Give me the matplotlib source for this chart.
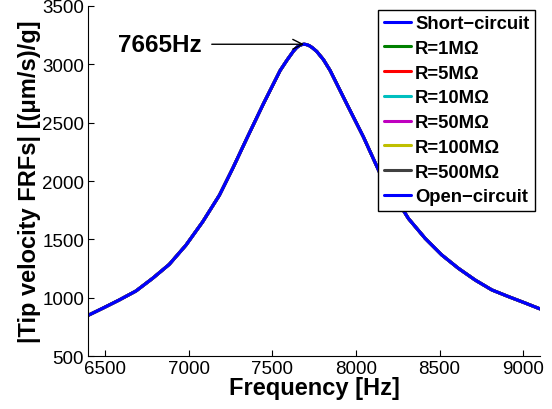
import matplotlib
matplotlib.use("Agg")
import matplotlib.pyplot as plt

freq = [6400, 6486, 6585, 6685, 6785, 6884, 6984, 7084, 7184, 7264, 7347, 7447,
        7547, 7590, 7626, 7645, 7661, 7676, 7690, 7705, 7721, 7740, 7766, 7806,
        7846, 7945, 8045, 8140, 8314, 8414, 8514, 8613, 8713, 8813, 8912, 9012, 9100]
velocity = [850, 910, 981, 1058, 1167, 1286, 1451, 1651, 1879, 2110, 2363, 2662,
            2947, 3040, 3112, 3143, 3160, 3169, 3172, 3169, 3160, 3142, 3110, 3040,
            2947, 2662, 2378, 2079, 1679, 1509, 1366, 1252, 1152, 1067, 1010, 955, 905]

series_labels = ["Short\u2212circuit", "R=1M\u03a9", "R=5M\u03a9", "R=10M\u03a9",
                 "R=50M\u03a9", "R=100M\u03a9", "R=500M\u03a9", "Open\u2212circuit"]
series_colors = [(0, 0, 1), (0, 0.5, 0), (1, 0, 0), (0, 0.75, 0.75),
                 (0.75, 0, 0.75), (0.75, 0.75, 0), (0.25, 0.25, 0.25), (0, 0, 1)]

peak_label = "7665Hz"
xticks = [6500, 7000, 7500, 8000, 8500, 9000]
yticks = [500, 1000, 1500, 2000, 2500, 3000, 3500]

plt.rcParams['font.family'] = ['Liberation Sans', 'DejaVu Sans']

fig = plt.figure(figsize=(5.52, 4.10), dpi=100)
ax = fig.add_axes([0.16, 0.129, 0.818, 0.854])

for lab, col in zip(series_labels, series_colors):
    ax.plot(freq, velocity, color=col, lw=2.2, label=lab,
            solid_joinstyle='round', solid_capstyle='round')

ax.set_xlim(6400, 9100)
ax.set_ylim(500, 3500)
ax.set_xticks(xticks)
ax.set_yticks(yticks)
ax.tick_params(direction='in', length=4, labelsize=13.5, width=0.8, pad=3)
for s in ['top', 'right']:
    ax.spines[s].set_visible(False)

ax.set_xlabel("Frequency [Hz]", fontsize=17, fontweight='bold', labelpad=-1)
ax.set_ylabel("|Tip velocity FRFs| [(\u03bcm/s)/g]", fontsize=17, fontweight='bold', labelpad=1)

pk = velocity.index(max(velocity))
ax.annotate(peak_label, xy=(freq[pk], velocity[pk]), xytext=(7080, velocity[pk]),
            ha='right', va='center', fontsize=17.5, fontweight='bold',
            arrowprops=dict(arrowstyle='->', color='black', lw=1, shrinkA=5, shrinkB=0))

leg = ax.legend(loc='upper right', bbox_to_anchor=(0.993, 0.995),
                prop={'weight': 'bold', 'size': 13.3}, fancybox=False,
                edgecolor='black', handlelength=1.5, handletextpad=0.2,
                labelspacing=0.42, borderpad=0.3, borderaxespad=0.1, framealpha=1)
leg.get_frame().set_linewidth(1)

fig.savefig("out.png", dpi=100)
